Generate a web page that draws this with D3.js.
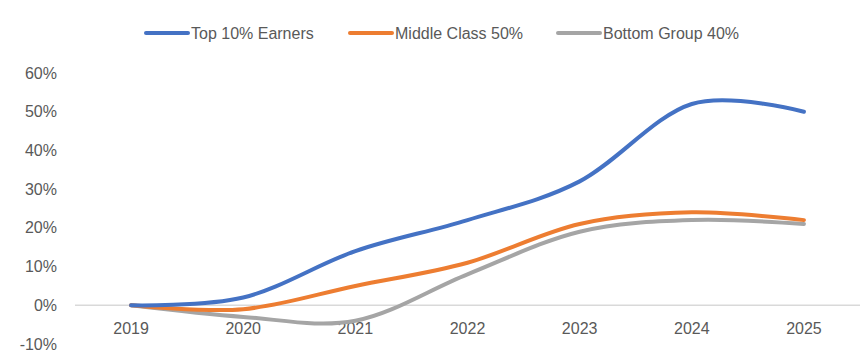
<!DOCTYPE html>
<html><head><meta charset="utf-8">
<script src="https://cdn.jsdelivr.net/npm/d3@7"></script>
<style>html,body{margin:0;padding:0;background:#fff;}</style>
</head><body>
<svg id="c" width="865" height="361"></svg>
<script>
const years = ["2019","2020","2021","2022","2023","2024","2025"];
const top10 = [0, 0.02, 0.14, 0.22, 0.32, 0.52, 0.50];
const middle50 = [0, -0.01, 0.05, 0.11, 0.21, 0.24, 0.22];
const bottom40 = [0, -0.03, -0.04, 0.08, 0.19, 0.22, 0.21];
const yTicks = [-0.1, 0, 0.1, 0.2, 0.3, 0.4, 0.5, 0.6];
const seriesNames = ["Top 10% Earners", "Middle Class 50%", "Bottom Group 40%"];
const colors = ["#4472C4", "#ED7D31", "#A5A5A5"];

const svg = d3.select("#c");
const font = "'Liberation Sans', Arial, sans-serif";
const x = d3.scaleBand().domain(years).range([75, 860]);
const y = d3.scaleLinear().domain([-0.1, 0.6]).range([344, 73]);
const pct = d3.formatLocale({decimal: ".", thousands: ",", grouping: [3], currency: ["", ""], minus: "-"}).format(".0%");

// zero line
svg.append("line").attr("x1", 75).attr("x2", 860)
  .attr("y1", y(0)).attr("y2", y(0))
  .attr("stroke", "#d9d9d9").attr("stroke-width", 1.5);

// y labels
svg.append("g").selectAll("text").data(yTicks).join("text")
  .attr("x", 57).attr("y", d => y(d)).attr("dy", "0.35em")
  .attr("text-anchor", "end").attr("font-family", font).attr("font-size", 16)
  .attr("fill", "#595959").text(d => pct(d));

// x labels
svg.append("g").selectAll("text").data(years).join("text")
  .attr("x", d => x(d) + x.bandwidth() / 2).attr("y", 328).attr("dy", "0.35em")
  .attr("text-anchor", "middle").attr("font-family", font).attr("font-size", 16)
  .attr("fill", "#595959").text(d => d);

const line = d3.line()
  .x((d, i) => x(years[i]) + x.bandwidth() / 2)
  .y(d => y(d))
  .curve(d3.curveCatmullRom.alpha(0));

const data = [top10, middle50, bottom40];
[2, 1, 0].forEach(i => {
  svg.append("path").datum(data[i]).attr("d", line)
    .attr("fill", "none").attr("stroke", colors[i]).attr("stroke-width", 4)
    .attr("stroke-linecap", "round").attr("stroke-linejoin", "round");
});

// legend
const legendX = [146, 350, 558];
const lg = svg.append("g");
seriesNames.forEach((n, i) => {
  lg.append("line").attr("x1", legendX[i]).attr("x2", legendX[i] + 42)
    .attr("y1", 33).attr("y2", 33).attr("stroke", colors[i]).attr("stroke-width", 4)
    .attr("stroke-linecap", "round");
  lg.append("text").attr("x", legendX[i] + 45).attr("y", 33).attr("dy", "0.35em")
    .attr("font-family", font).attr("font-size", 16).attr("fill", "#595959").text(n);
});
</script>
</body></html>
